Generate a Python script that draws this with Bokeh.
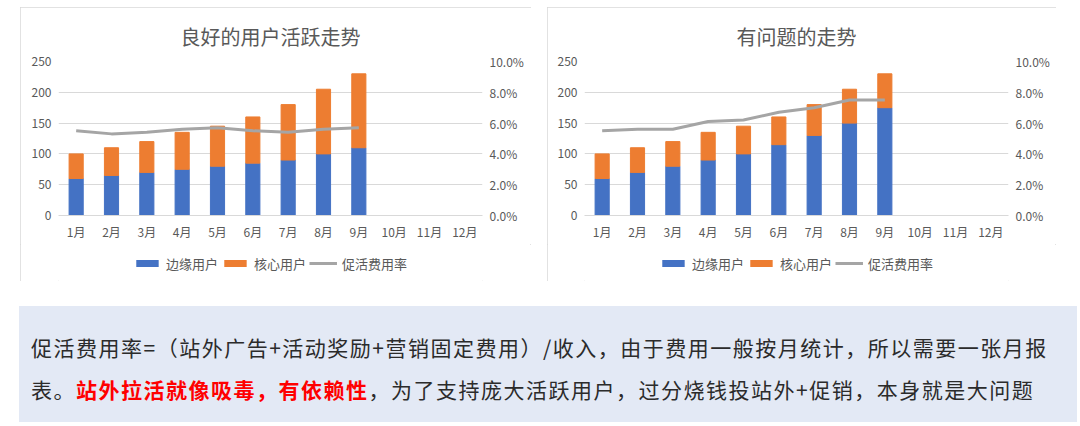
from bokeh.plotting import figure
from bokeh.models import (ColumnDataSource, FactorRange, Range1d, LinearAxis, Legend,
                          LegendItem, NumeralTickFormatter, FixedTicker, Div, Spacer)
from bokeh.layouts import row, column
from bokeh.embed import file_html
from bokeh.resources import INLINE

# ---------------- data ----------------
months = ["1月", "2月", "3月", "4月", "5月", "6月", "7月", "8月", "9月", "10月", "11月", "12月"]
data_months = ["1月", "2月", "3月", "4月", "5月", "6月", "7月", "8月", "9月"]

good_title = "良好的用户活跃走势"
good_edge = [60, 65, 70, 75, 80, 85, 90, 100, 110]
good_core = [40, 45, 50, 60, 65, 75, 90, 105, 120]
good_rate = [0.055, 0.053, 0.054, 0.056, 0.057, 0.055, 0.054, 0.056, 0.057]

bad_title = "有问题的走势"
bad_edge = [60, 70, 80, 90, 100, 115, 130, 150, 175]
bad_core = [40, 40, 40, 45, 45, 45, 50, 55, 55]
bad_rate = [0.055, 0.056, 0.056, 0.061, 0.062, 0.067, 0.070, 0.075, 0.075]

left_ticks = [0, 50, 100, 150, 200, 250]
right_ticks = [0.0, 0.02, 0.04, 0.06, 0.08, 0.10]
series_names = ["边缘用户", "核心用户", "促活费用率"]

FONT = "Noto Sans CJK SC"
TXT = "#595959"
BLUE, ORANGE, GREY = "#4472C4", "#ED7D31", "#A5A5A5"


def build(title, edge, core, rate, mb_left, mb_right):
    p = figure(x_range=FactorRange(factors=months), y_range=Range1d(start=0, end=250),
               frame_width=424, frame_height=154, title=title,
               output_backend="svg", toolbar_location=None,
               min_border_left=mb_left, min_border_right=mb_right,
               min_border_top=54, min_border_bottom=29)
    total = [e + c for e, c in zip(edge, core)]
    src = ColumnDataSource(data=dict(m=data_months, edge=edge, total=total, rate=rate))
    p.vbar(x="m", bottom=0, top="edge", width=0.4, source=src,
           fill_color=BLUE, line_color=BLUE)
    p.vbar(x="m", bottom="edge", top="total", width=0.4, source=src,
           fill_color=ORANGE, line_color=ORANGE)
    p.extra_y_ranges = {"rate": Range1d(start=0, end=0.10)}
    p.line(x="m", y="rate", y_range_name="rate", source=src,
           line_color=GREY, line_width=3)

    rax = LinearAxis(y_range_name="rate", ticker=FixedTicker(ticks=right_ticks),
                     formatter=NumeralTickFormatter(format="0.0%"))
    p.add_layout(rax, "right")
    p.yaxis[0].ticker = FixedTicker(ticks=left_ticks)

    for ax in p.axis:
        ax.axis_line_color = None
        ax.major_tick_line_color = None
        ax.minor_tick_line_color = None
        ax.major_tick_out = 0
        ax.major_tick_in = 0
        ax.major_label_text_color = TXT
        ax.major_label_text_font = FONT
        ax.major_label_text_font_size = "12px"
    p.yaxis.major_label_standoff = 7
    p.xaxis.major_label_standoff = 7
    p.xaxis.axis_line_color = "#D9D9D9"

    p.xgrid.grid_line_color = None
    p.ygrid.grid_line_color = "#D9D9D9"
    p.ygrid.ticker = FixedTicker(ticks=left_ticks)
    p.outline_line_color = None

    p.title.align = "center"
    p.title.text_font = FONT
    p.title.text_font_size = "20px"
    p.title.text_font_style = "normal"
    p.title.text_color = TXT
    p.title.standoff = 22
    return p


def build_legend(width):
    lg = figure(width=width, height=37, x_range=Range1d(start=0, end=1),
                y_range=Range1d(start=0, end=1), x_axis_location=None,
                y_axis_location=None, output_backend="svg", toolbar_location=None,
                min_border=0)
    lg.grid.visible = False
    lg.outline_line_color = None
    # zero-size renderers: they only give the legend its swatches
    r1 = lg.vbar(x=[0.5], bottom=[0.5], top=[0.5], width=0, fill_color=BLUE,
                 line_color=None)
    r2 = lg.vbar(x=[0.5], bottom=[0.5], top=[0.5], width=0, fill_color=ORANGE,
                 line_color=None)
    r3 = lg.line(x=[0.5, 0.5], y=[0.5, 0.5], line_color=GREY, line_width=3)
    legend = Legend(items=[LegendItem(label=series_names[0], renderers=[r1]),
                           LegendItem(label=series_names[1], renderers=[r2]),
                           LegendItem(label=series_names[2], renderers=[r3])],
                    orientation="horizontal", location="center",
                    glyph_width=28, glyph_height=9, label_standoff=5, spacing=3,
                    padding=0, margin=0, border_line_color=None,
                    background_fill_alpha=0,
                    label_text_font=FONT, label_text_font_size="13px",
                    label_text_color=TXT)
    lg.add_layout(legend, "center")
    return lg


p1 = build(good_title, good_edge, good_core, good_rate, 38, 49)
p2 = build(bad_title, bad_edge, bad_core, bad_rate, 37, 48)
l1 = build_legend(511)
l2 = build_legend(509)

BOX = {"outline": "1px solid #D9D9D9", "outline-offset": "-1px"}
c1 = column(p1, l1, styles=BOX)
c2 = column(p2, l2, styles=BOX)

note_line1 = "促活费用率=（站外广告+活动奖励+营销固定费用）/收入，由于费用一般按月统计，所以需要一张月报"
note_line2a = "表。"
note_red = "站外拉活就像吸毒，有依赖性"
note_line2b = "，为了支持庞大活跃用户，过分烧钱投站外+促销，本身就是大问题"

html = (f'<div style="font-family:\'{FONT}\';font-size:21px;letter-spacing:1.5px;'
        f'line-height:42px;color:#2b2b2b;padding:20px 0 0 12px;white-space:nowrap;">'
        f'{note_line1}<br>{note_line2a}'
        f'<span style="color:#FF0000;font-weight:bold;">{note_red}</span>'
        f'{note_line2b}</div>')
note = Div(text=html, width=1058, height=116, styles={"background-color": "#E3E9F5"})

top_row = row(Spacer(width=20, height=274), c1, Spacer(width=16, height=274), c2)
layout = column(Spacer(width=1080, height=7), top_row, Spacer(width=1080, height=20),
                row(Spacer(width=14, height=116), note))
open("out.html", "w").write(file_html(layout, INLINE))
